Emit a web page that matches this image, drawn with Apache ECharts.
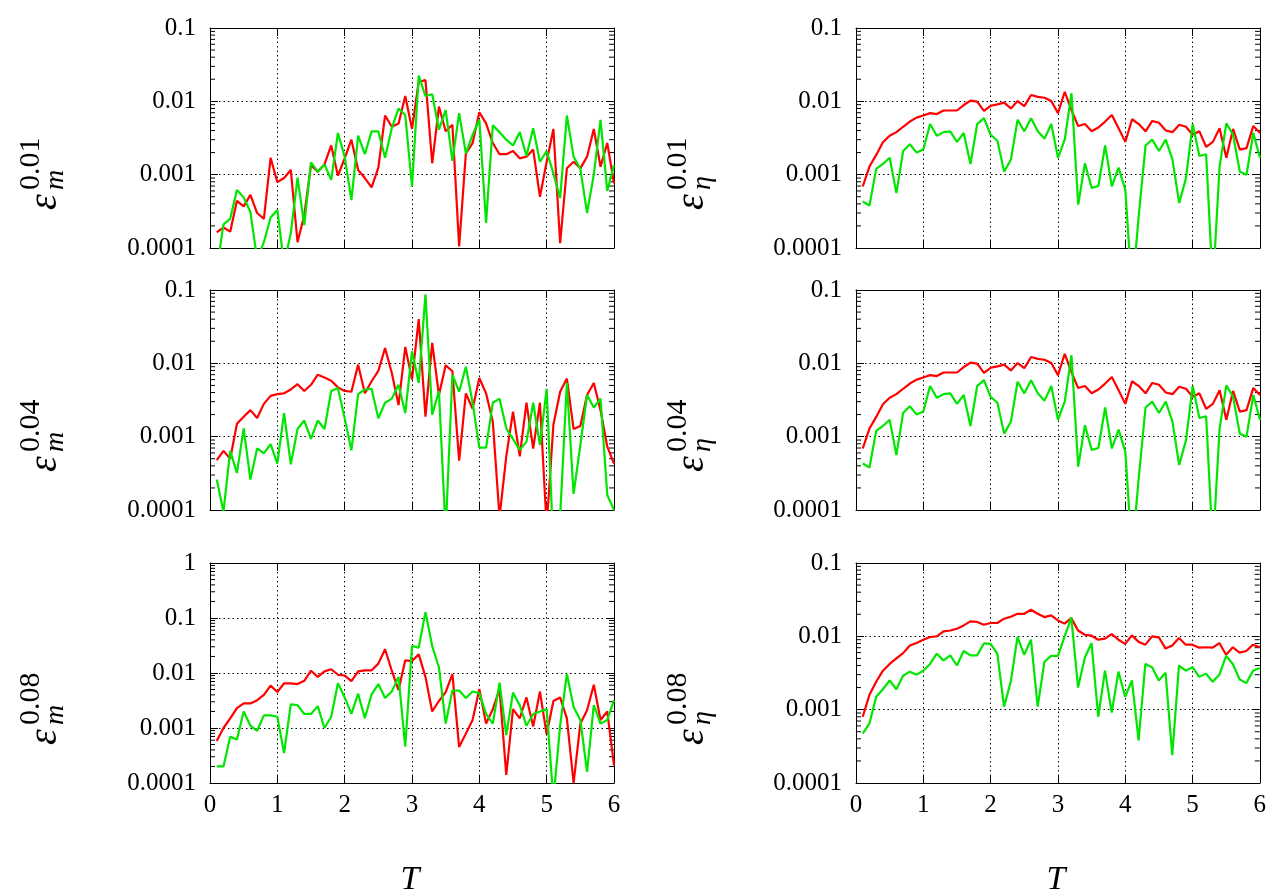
<!DOCTYPE html>
<html>
<head>
<meta charset="utf-8">
<script src="https://cdn.jsdelivr.net/npm/echarts@6/dist/echarts.min.js"></script>
<style>
html,body{margin:0;padding:0;background:#fff;}
#chart{width:1269px;height:894px;}
</style>
</head>
<body>
<div id="chart"></div>
<script>
// time axis
var T = [0.1,0.2,0.3,0.4,0.5,0.6,0.7,0.8,0.9,1.0,1.1,1.2,1.3,1.4,1.5,1.6,1.7,1.8,1.9,2.0,
	2.1,2.2,2.3,2.4,2.5,2.6,2.7,2.8,2.9,3.0,3.1,3.2,3.3,3.4,3.5,3.6,3.7,3.8,3.9,4.0,
	4.1,4.2,4.3,4.4,4.5,4.6,4.7,4.8,4.9,5.0,5.1,5.2,5.3,5.4,5.5,5.6,5.7,5.8,5.9,6.0];

var xTickLabels = ['0','1','2','3','4','5','6'];
var yTickLabels = ['0.0001','0.001','0.01','0.1','1'];

// eps_m, 0.01
var mRed001 = [0.000164,0.00019,0.000167,0.00044,0.00037,0.00053,0.0003,0.00025,0.0017,0.00079,
	0.0009,0.00116,0.00012,0.00028,0.00135,0.0011,0.00138,0.0025,0.00097,0.00167,
	0.003,0.00116,0.0009,0.00067,0.00125,0.0064,0.0045,0.005,0.0118,0.0042,
	0.0185,0.0195,0.00143,0.0085,0.0039,0.0048,0.000105,0.00195,0.0027,0.0071,
	0.005,0.0027,0.0019,0.0019,0.0021,0.00167,0.00176,0.0022,0.0005,0.0015,
	0.0042,0.000116,0.00122,0.0015,0.00122,0.00176,0.0042,0.00128,0.0027,0.00076];
var mGreen001 = [0.00005,0.00021,0.00025,0.00062,0.00049,0.00031,0.00007,0.00012,0.00026,0.00033,
	0.00006,0.00016,0.00091,0.000205,0.00147,0.0011,0.00138,0.00085,0.0037,0.00176,
	0.00045,0.0034,0.0019,0.0039,0.0039,0.0017,0.0043,0.008,0.0065,0.00069,
	0.0224,0.0118,0.0125,0.0041,0.0076,0.00154,0.0069,0.00195,0.0035,0.0056,
	0.00022,0.0047,0.0038,0.003,0.0025,0.0038,0.0018,0.0043,0.0015,0.0021,
	0.00104,0.00048,0.0064,0.00176,0.0012,0.0003,0.001,0.0056,0.0006,0.00135];

// eps_eta, 0.01 (the 0.04 panel shows the same curves)
var etaRed001 = [0.00069,0.00129,0.00186,0.00276,0.0034,0.0038,0.0045,0.0053,0.006,0.0064,
	0.0069,0.0067,0.0075,0.0075,0.0075,0.0089,0.0102,0.0099,0.0074,0.0087,
	0.0091,0.0096,0.008,0.0101,0.0086,0.0122,0.0115,0.0112,0.0101,0.0069,
	0.0135,0.0076,0.0046,0.0049,0.0039,0.0044,0.0053,0.0065,0.0043,0.0028,
	0.0057,0.0049,0.0039,0.0054,0.0051,0.004,0.0038,0.0048,0.0045,0.0035,
	0.0039,0.0024,0.0028,0.0043,0.0017,0.0042,0.0022,0.0023,0.0046,0.0037];
var etaGreen001 = [0.00043,0.00038,0.0012,0.0014,0.0017,0.00056,0.0021,0.0026,0.002,0.0022,
	0.0049,0.0034,0.0038,0.0039,0.0028,0.0037,0.0014,0.0049,0.0059,0.0035,
	0.0029,0.0011,0.0016,0.0056,0.0039,0.0059,0.0039,0.0031,0.0049,0.0017,
	0.003,0.0129,0.00039,0.00143,0.00066,0.0007,0.0025,0.00069,0.00125,0.00062,
	0.000025,0.00028,0.0025,0.003,0.0021,0.003,0.0016,0.00041,0.00089,0.0049,
	0.0018,0.0019,0.00003,0.00129,0.005,0.0035,0.0011,0.001,0.0037,0.0017];

// eps_m, 0.04
var mRed004 = [0.00048,0.00064,0.0005,0.0015,0.00187,0.0023,0.0018,0.0028,0.0036,0.0038,
	0.0039,0.0044,0.0052,0.0042,0.0051,0.007,0.0064,0.0058,0.0047,0.0042,
	0.0041,0.0096,0.0039,0.0057,0.0079,0.0162,0.0074,0.0027,0.0167,0.006,
	0.04,0.00187,0.019,0.0037,0.0094,0.0078,0.00047,0.0039,0.0024,0.0063,
	0.0039,0.0016,0.00008,0.00054,0.0022,0.00054,0.0029,0.00069,0.0029,0.00006,
	0.00145,0.0041,0.0062,0.00127,0.0014,0.0037,0.0054,0.0023,0.00073,0.00043];
var mGreen004 = [0.00026,0.000095,0.00064,0.00032,0.0013,0.00026,0.00069,0.00059,0.00079,0.00043,
	0.0021,0.00042,0.00127,0.00166,0.00093,0.00166,0.00127,0.0042,0.0046,0.00178,
	0.00065,0.0038,0.0044,0.0045,0.00178,0.0029,0.0033,0.0051,0.0021,0.0146,
	0.0054,0.087,0.002,0.0042,0.00005,0.007,0.0041,0.009,0.0029,0.00071,
	0.00071,0.0029,0.0033,0.0013,0.00093,0.00066,0.00085,0.0029,0.00077,0.0045,
	0.00003,0.00008,0.0054,0.000166,0.00077,0.0037,0.0025,0.0033,0.00016,0.0001];

// eps_m, 0.08
var mRed008 = [0.00058,0.001,0.0015,0.0023,0.0028,0.0028,0.0032,0.004,0.0059,0.0045,
	0.0065,0.0065,0.0063,0.0072,0.011,0.0085,0.0107,0.0117,0.0093,0.009,
	0.0071,0.0107,0.0112,0.0112,0.0148,0.027,0.011,0.0049,0.017,0.0165,
	0.0218,0.0085,0.002,0.0031,0.0045,0.0095,0.00045,0.00079,0.0014,0.0051,
	0.0012,0.0022,0.0051,0.00014,0.0022,0.0015,0.0036,0.00107,0.0046,0.00077,
	0.0031,0.0036,0.0015,0.0001,0.0012,0.0021,0.0061,0.0014,0.002,0.00021];
var mGreen008 = [0.0002,0.0002,0.00069,0.00062,0.002,0.0011,0.00089,0.0017,0.0017,0.0016,
	0.00035,0.0027,0.0026,0.0018,0.0018,0.0025,0.001,0.0016,0.0065,0.0036,
	0.0018,0.0042,0.0015,0.0041,0.0063,0.0035,0.0046,0.0085,0.00046,0.031,
	0.029,0.128,0.031,0.0126,0.0012,0.0048,0.0048,0.0035,0.0046,0.0043,
	0.0018,0.0012,0.0067,0.00074,0.0044,0.0026,0.0011,0.0018,0.002,0.0022,
	0.00005,0.0011,0.0096,0.0024,0.0014,0.00016,0.0026,0.0012,0.0014,0.0032];

// eps_eta, 0.08
var etaRed008 = [0.0008,0.0016,0.0024,0.0034,0.0042,0.005,0.0059,0.0075,0.0081,0.009,
	0.0098,0.01,0.0117,0.012,0.0127,0.0141,0.016,0.0157,0.0144,0.0152,
	0.0152,0.0174,0.0185,0.0203,0.0203,0.023,0.0203,0.0183,0.0193,0.0165,
	0.0149,0.0177,0.012,0.0105,0.0102,0.009,0.0093,0.0107,0.009,0.0079,
	0.0103,0.0084,0.0077,0.01,0.0097,0.0068,0.0075,0.0095,0.0077,0.0077,
	0.007,0.0071,0.007,0.0081,0.0056,0.0071,0.006,0.0063,0.0077,0.0071];
var etaGreen008 = [0.00047,0.00065,0.0015,0.0019,0.0025,0.0019,0.0029,0.0033,0.003,0.0034,
	0.0042,0.0058,0.0047,0.0055,0.004,0.0063,0.0055,0.0055,0.008,0.0079,
	0.0058,0.0011,0.0024,0.0098,0.0056,0.009,0.0011,0.0045,0.0054,0.0054,
	0.01,0.018,0.002,0.0051,0.0081,0.0008,0.0034,0.00091,0.0033,0.0015,
	0.0025,0.00038,0.0042,0.0038,0.0025,0.0032,0.00024,0.004,0.0034,0.0038,
	0.0028,0.0031,0.0024,0.003,0.0054,0.0042,0.0026,0.0023,0.0034,0.0037];

// minor tick values of the log axes
var minorTicks3 = [0.0002,0.0003,0.0004,0.0005,0.0006,0.0007,0.0008,0.0009,
	0.002,0.003,0.004,0.005,0.006,0.007,0.008,0.009,
	0.02,0.03,0.04,0.05,0.06,0.07,0.08,0.09];
var minorTicks4 = minorTicks3.concat([0.2,0.3,0.4,0.5,0.6,0.7,0.8,0.9]);

var FONT = '"Liberation Serif", "DejaVu Serif", serif';
var RED = '#ff0000';
var GREEN = '#00e600';

var panels = [
	{red: mRed001, green: mGreen001, yMax: 0.1, left: 210, top: 28, sub: 'm', sup: '0.01', lx: 45},
	{red: etaRed001, green: etaGreen001, yMax: 0.1, left: 856, top: 28, sub: 'η', sup: '0.01', lx: 692},
	{red: mRed004, green: mGreen004, yMax: 0.1, left: 210, top: 290, sub: 'm', sup: '0.04', lx: 45},
	{red: etaRed001, green: etaGreen001, yMax: 0.1, left: 856, top: 290, sub: 'η', sup: '0.04', lx: 692},
	{red: mRed008, green: mGreen008, yMax: 1, left: 210, top: 563, sub: 'm', sup: '0.08', lx: 45},
	{red: etaRed008, green: etaGreen008, yMax: 0.1, left: 856, top: 563, sub: 'η', sup: '0.08', lx: 692}
];

function pairs(vals){
	return T.map(function(t, k){ return [t, vals[k]]; });
}

function renderMinor(params, api){
	var cs = params.coordSys;
	var y = api.coord([0, api.value(1)])[1];
	return {
		type: 'group',
		children: [
			{type: 'line', shape: {x1: cs.x, y1: y, x2: cs.x + 5, y2: y}, style: {stroke: '#000', lineWidth: 1}},
			{type: 'line', shape: {x1: cs.x + cs.width, y1: y, x2: cs.x + cs.width - 5, y2: y}, style: {stroke: '#000', lineWidth: 1}}
		]
	};
}

var grids = [], xAxes = [], yAxes = [], series = [], graphics = [];
var dotted = {color: '#000', width: 1, type: [1.5, 3]};

panels.forEach(function(p, i){
	var bottomRow = (i >= 4);
	grids.push({left: p.left, top: p.top, width: 404, height: 220});

	xAxes.push({
		gridIndex: i, type: 'value', min: 0, max: 6, interval: 1, position: 'bottom',
		axisLine: {show: true, onZero: false, lineStyle: {color: '#000', width: 1}},
		axisTick: {show: true, inside: true, length: 8, lineStyle: {color: '#000'}},
		axisLabel: {show: bottomRow, margin: 10, color: '#000', fontFamily: FONT, fontSize: 25,
			formatter: function(v){ return xTickLabels[Math.round(v)]; }},
		splitLine: {show: true, lineStyle: dotted}
	});
	xAxes.push({
		gridIndex: i, type: 'value', min: 0, max: 6, interval: 1, position: 'top',
		axisLine: {show: true, onZero: false, lineStyle: {color: '#000', width: 1}},
		axisTick: {show: true, inside: true, length: 8, lineStyle: {color: '#000'}},
		axisLabel: {show: false}, splitLine: {show: false}
	});
	yAxes.push({
		gridIndex: i, type: 'log', logBase: 10, min: 0.0001, max: p.yMax, position: 'left',
		axisLine: {show: true, onZero: false, lineStyle: {color: '#000', width: 1}},
		axisTick: {show: true, inside: true, length: 8, lineStyle: {color: '#000'}},
		axisLabel: {show: true, margin: 14, color: '#000', fontFamily: FONT, fontSize: 25,
			formatter: function(v){ return yTickLabels[Math.round(Math.log10(v)) + 4]; }},
		splitLine: {show: true, lineStyle: dotted}
	});
	yAxes.push({
		gridIndex: i, type: 'log', logBase: 10, min: 0.0001, max: p.yMax, position: 'right',
		axisLine: {show: true, onZero: false, lineStyle: {color: '#000', width: 1}},
		axisTick: {show: true, inside: true, length: 8, lineStyle: {color: '#000'}},
		axisLabel: {show: false}, splitLine: {show: false}
	});

	series.push({
		type: 'custom', xAxisIndex: 2 * i, yAxisIndex: 2 * i, silent: true, clip: false,
		renderItem: renderMinor,
		data: (p.yMax === 1 ? minorTicks4 : minorTicks3).map(function(v){ return [0, v]; })
	});
	series.push({
		type: 'line', xAxisIndex: 2 * i, yAxisIndex: 2 * i, data: pairs(p.red),
		showSymbol: false, clip: true, lineStyle: {color: RED, width: 2.2}, itemStyle: {color: RED}
	});
	series.push({
		type: 'line', xAxisIndex: 2 * i, yAxisIndex: 2 * i, data: pairs(p.green),
		showSymbol: false, clip: true, lineStyle: {color: GREEN, width: 2.2}, itemStyle: {color: GREEN}
	});

	// rotated axis title: epsilon with stacked sub/superscript
	graphics.push({
		type: 'group', x: p.lx, y: p.top + 182, rotation: Math.PI / 2,
		children: [
			{type: 'text', x: 0, y: 0, style: {text: 'ε', font: 'italic 40px ' + FONT, fill: '#000', verticalAlign: 'middle'}},
			{type: 'text', x: 20, y: -14, style: {text: p.sup, font: '30px ' + FONT, fill: '#000', verticalAlign: 'middle'}},
			{type: 'text', x: 20, y: 11, style: {text: p.sub, font: 'italic 28px ' + FONT, fill: '#000', verticalAlign: 'middle'}}
		]
	});
});

graphics.push({type: 'text', x: 410, y: 880, style: {text: 'T', font: 'italic 34px ' + FONT, fill: '#000', align: 'center', verticalAlign: 'middle'}});
graphics.push({type: 'text', x: 1056, y: 880, style: {text: 'T', font: 'italic 34px ' + FONT, fill: '#000', align: 'center', verticalAlign: 'middle'}});

var myChart = echarts.init(document.getElementById('chart'));
myChart.setOption({
	animation: false,
	backgroundColor: '#fff',
	grid: grids,
	xAxis: xAxes,
	yAxis: yAxes,
	series: series,
	graphic: graphics
});
</script>
</body>
</html>
